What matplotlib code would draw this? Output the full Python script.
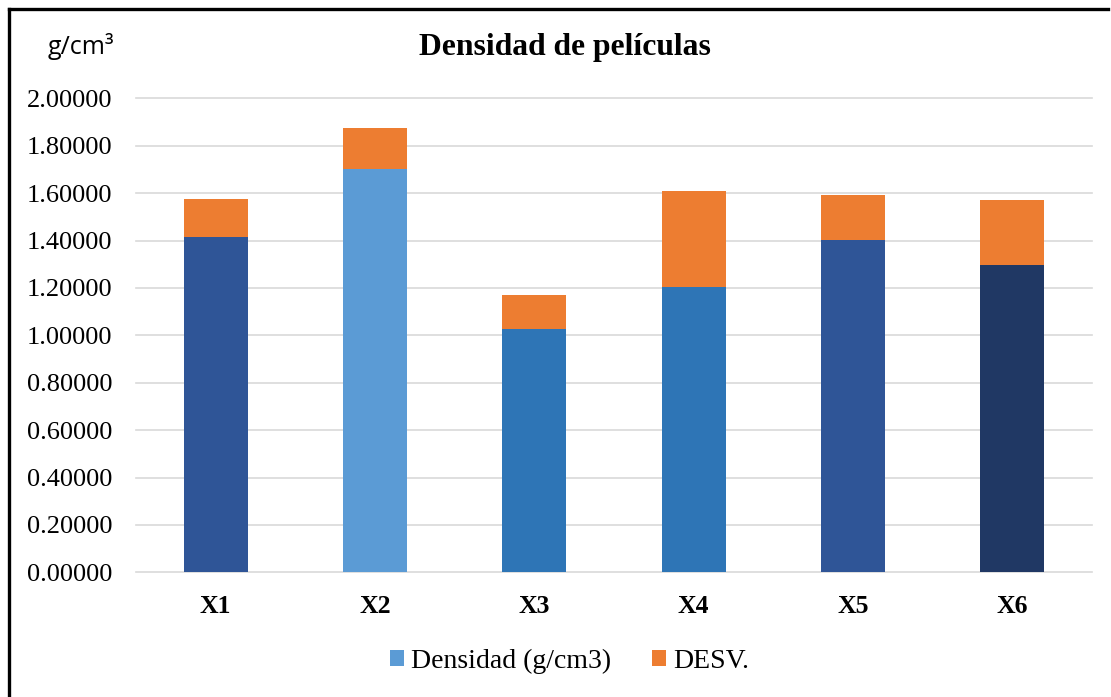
import matplotlib
matplotlib.use("Agg")
import matplotlib.pyplot as plt
from matplotlib.lines import Line2D
from matplotlib.patches import Patch

categories = ["X1", "X2", "X3", "X4", "X5", "X6"]
densidad = [1.415, 1.700, 1.028, 1.206, 1.402, 1.296]
desv = [0.159, 0.174, 0.141, 0.405, 0.189, 0.275]
yticks = [0.0, 0.2, 0.4, 0.6, 0.8, 1.0, 1.2, 1.4, 1.6, 1.8, 2.0]

bar_colors = ["#2F5597", "#5B9BD5", "#2E75B6", "#2E75B6", "#2F5597", "#203864"]
legend_blue = "#5B9BD5"
orange = "#ED7D31"
grid_color = "#D9D9D9"
serif = "Liberation Serif"

fig = plt.figure(figsize=(11.11, 6.97), dpi=100)
ax = fig.add_axes([0.1224, 0.1789, 0.8605, 0.680])

x = list(range(len(categories)))
ax.bar(x, densidad, width=0.4, color=bar_colors, zorder=3)
ax.bar(x, desv, width=0.4, bottom=densidad, color=orange, zorder=3)

ax.set_xlim(-0.5, len(categories) - 0.5)
ax.set_ylim(0, 2.0)
ax.set_yticks(yticks)
ax.set_yticklabels([f"{v:.5f}" for v in yticks], fontfamily=serif, fontsize=19)
ax.set_xticks(x)
ax.set_xticklabels(categories, fontfamily=serif, fontsize=18.5, fontweight="bold")
ax.tick_params(axis="y", length=0, pad=17)
ax.tick_params(axis="x", length=0, pad=16)
ax.yaxis.grid(True, color=grid_color, linewidth=1.2, zorder=0)
ax.set_axisbelow(True)
for s in ax.spines.values():
    s.set_visible(False)
for gl in ax.get_ygridlines():
    gl.set_clip_on(False)

fig.text(0.5085, 1 - 47 / 697, "Densidad de películas", ha="center", va="center",
         fontfamily=serif, fontsize=22.8, fontweight="bold")
fig.text(81 / 1111, 1 - 47 / 697, "g/cm³", ha="center", va="center",
         fontfamily="Open Sans", fontsize=18)

handles = [Patch(facecolor=legend_blue), Patch(facecolor=orange)]
fig.legend(handles, ["Densidad (g/cm3)", "DESV."], loc="center",
           bbox_to_anchor=(569.5 / 1111, 1 - 661 / 697), ncol=2, frameon=False,
           prop={"family": serif, "size": 20}, handlelength=0.5, handleheight=0.5,
           handletextpad=0.25, columnspacing=1.5)

# frame lines along the left and top edges
fig.add_artist(Line2D([9 / 1111, 9 / 1111], [0, 1 - 9 / 697], transform=fig.transFigure,
                      color="black", linewidth=2.4, solid_capstyle="projecting"))
fig.add_artist(Line2D([9 / 1111, 1108 / 1111], [1 - 9 / 697, 1 - 9 / 697], transform=fig.transFigure,
                      color="black", linewidth=2.4, solid_capstyle="projecting"))

fig.savefig("out.png", dpi=100)
